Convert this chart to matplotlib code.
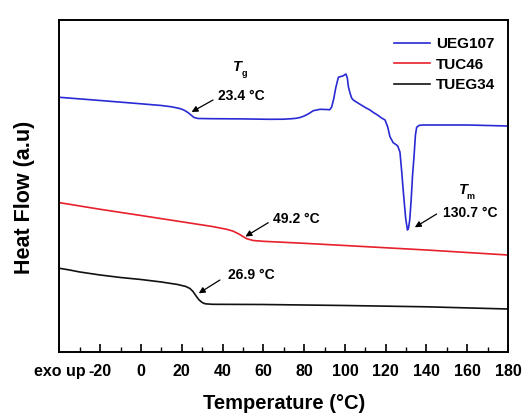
import matplotlib
matplotlib.use("Agg")
import matplotlib.pyplot as plt
from matplotlib.ticker import MultipleLocator, FixedLocator

plt.rcParams["font.family"] = ["Liberation Sans", "DejaVu Sans"]
plt.rcParams["font.weight"] = "bold"

# DSC traces (heat flow in arbitrary units, exo up)
t_ueg107 = [-40, -20, 0, 10, 15, 19, 21, 23, 24.5, 26, 28, 35, 50, 63, 70, 74, 76,
            78, 80, 82, 84.5, 87.8, 91, 92.5, 93.5, 94.5, 95.5, 96.8, 98, 99, 100.5,
            101.2, 101.7, 102.5, 103.3, 104.1, 106, 108, 110, 112.3, 114, 116, 118,
            119.7, 121, 122.1, 123.7, 125.0, 125.9, 127.0, 127.8, 128.8, 129.8, 130.3,
            130.7, 131.2, 131.8, 132.5, 133.2, 133.9, 134.6, 135.2, 136.5, 138.4, 150,
            160, 170, 180]
hf_ueg107 = [2.547, 2.515, 2.482, 2.465, 2.452, 2.435, 2.420, 2.395, 2.370, 2.345,
             2.335, 2.333, 2.331, 2.327, 2.328, 2.333, 2.337, 2.345, 2.360, 2.380,
             2.413, 2.427, 2.425, 2.422, 2.450, 2.530, 2.640, 2.747, 2.755, 2.760,
             2.780, 2.740, 2.653, 2.590, 2.540, 2.520, 2.495, 2.470, 2.445, 2.420,
             2.395, 2.370, 2.340, 2.320, 2.250, 2.153, 2.093, 2.075, 2.060, 2.000,
             1.820, 1.570, 1.340, 1.270, 1.220, 1.240, 1.320, 1.520, 1.770, 1.953,
             2.170, 2.247, 2.267, 2.270, 2.270, 2.270, 2.265, 2.260]

t_tuc46 = [-40, -35, -30, -20, 0, 20, 35, 42, 45, 48, 50, 52, 55, 60, 80, 100, 140, 180]
hf_tuc46 = [1.493, 1.477, 1.460, 1.427, 1.365, 1.302, 1.255, 1.227, 1.210, 1.180,
            1.155, 1.132, 1.115, 1.107, 1.087, 1.065, 1.020, 0.970]

t_tueg34 = [-40, -35, -30, -20, -10, 0, 10, 18, 22, 24, 25.5, 27, 28.5, 30, 31.5, 35,
            60, 100, 140, 180]
hf_tueg34 = [0.837, 0.820, 0.800, 0.770, 0.745, 0.725, 0.700, 0.675, 0.655, 0.635,
             0.605, 0.560, 0.520, 0.495, 0.482, 0.477, 0.475, 0.465, 0.452, 0.430]

series_names = ["UEG107", "TUC46", "TUEG34"]
series_colors = ["#2a2ad4", "#e8202c", "#111111"]

tick_values = [-40, -20, 0, 20, 40, 60, 80, 100, 120, 140, 160, 180]
tick_labels = ["exo up", "-20", "0", "20", "40", "60", "80", "100", "120", "140",
               "160", "180"]

fig = plt.figure(figsize=(5.25, 4.15), dpi=100)
ax = fig.add_axes([0.1133, 0.1518, 0.8543, 0.8000])

ax.plot(t_ueg107, hf_ueg107, color=series_colors[0], lw=1.2, label=series_names[0])
ax.plot(t_tuc46, hf_tuc46, color=series_colors[1], lw=1.2, label=series_names[1])
ax.plot(t_tueg34, hf_tueg34, color=series_colors[2], lw=1.2, label=series_names[2])

ax.set_xlim(-40, 180)
ax.set_ylim(0, 3.32)

ax.xaxis.set_major_locator(FixedLocator(tick_values))
ax.set_xticklabels(tick_labels, fontsize=11.5, fontweight="bold")
ax.xaxis.set_minor_locator(MultipleLocator(10))
ax.tick_params(axis="x", which="major", direction="in", length=6, width=1.2, pad=8.5)
ax.tick_params(axis="x", which="minor", direction="in", length=3.5, width=1.0)
ax.tick_params(axis="y", left=False, labelleft=False)
for sp in ax.spines.values():
    sp.set_linewidth(1.4)

ax.set_xlabel("Temperature (°C)", fontsize=14.5, fontweight="bold", labelpad=11)
ax.set_ylabel("Heat Flow (a.u)", fontsize=15.5, fontweight="bold")
ax.yaxis.set_label_coords(-0.055, 0.467)

leg = ax.legend(loc="upper left", bbox_to_anchor=(0.745, 0.948), frameon=False,
                fontsize=11, handlelength=2.4, handletextpad=0.35, labelspacing=0.43,
                borderpad=0, borderaxespad=0)
for txt in leg.get_texts():
    txt.set_fontweight("bold")

arrow = dict(arrowstyle="-|>", color="black", lw=0.9, mutation_scale=9,
             shrinkA=0, shrinkB=0)
lab = dict(fontsize=10, fontweight="bold", ha="left", va="center")

# glass transition of UEG107
ax.annotate("", xy=(24.8, 2.40), xytext=(35.3, 2.52), arrowprops=arrow)
ax.text(37.8, 2.56, "23.4 °C", **lab)
ax.text(47.1, 2.85, "T", fontsize=10.5, fontweight="bold", style="italic",
        ha="center", va="center")
ax.text(50.5, 2.785, "g", fontsize=6.5, fontweight="bold", ha="center", va="center")

# glass transition of TUC46
ax.annotate("", xy=(51.2, 1.155), xytext=(62.4, 1.293), arrowprops=arrow)
ax.text(64.7, 1.33, "49.2 °C", **lab)

# melting of UEG107
ax.annotate("", xy=(134.3, 1.247), xytext=(145.0, 1.38), arrowprops=arrow)
ax.text(148.1, 1.393, "130.7 °C", **lab)
ax.text(158.1, 1.62, "T", fontsize=10.5, fontweight="bold", style="italic",
        ha="center", va="center")
ax.text(161.6, 1.56, "m", fontsize=6.5, fontweight="bold", ha="center", va="center")

# glass transition of TUEG34
ax.annotate("", xy=(28.3, 0.587), xytext=(38.7, 0.72), arrowprops=arrow)
ax.text(42.7, 0.77, "26.9 °C", **lab)

fig.savefig("out.png", dpi=100, facecolor="white")
